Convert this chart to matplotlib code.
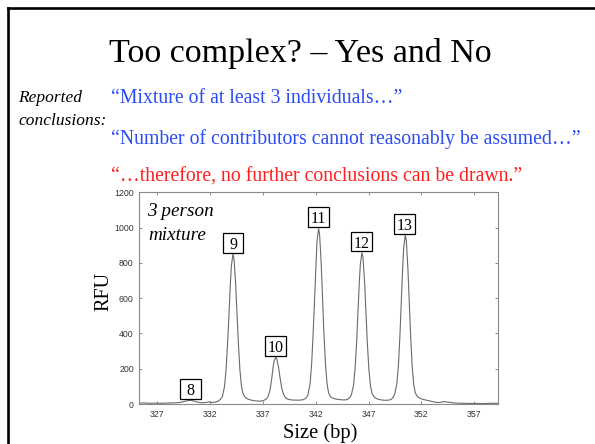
import matplotlib
matplotlib.use("Agg")
import matplotlib.pyplot as plt
from matplotlib.patches import Rectangle
from matplotlib.lines import Line2D

# ---------------- data ----------------
title = "Too complex? \u2013 Yes and No"
side_label = ["Reported", "conclusions:"]
quotes = ["\u201cMixture of at least 3 individuals\u2026\u201d",
          "\u201cNumber of contributors cannot reasonably be assumed\u2026\u201d",
          "\u201c\u2026therefore, no further conclusions can be drawn.\u201d"]
quote_colors = ["#2a4bf5", "#2a4bf5", "#ff1f1f"]

size_bp = [325.35, 325.8, 326.3, 326.8, 327.3, 327.8, 328.3, 328.8, 329.2, 329.6,
           329.9, 330.15, 330.45, 330.75, 331.05, 331.4, 331.7, 331.95, 332.2, 332.5,
           332.8, 333.0, 333.2, 333.4, 333.55, 333.7, 333.8, 333.95, 334.05, 334.2,
           334.3, 334.45, 334.6, 334.7, 334.85, 335.0, 335.15, 335.35, 335.6, 335.9,
           336.3, 336.7, 337.0, 337.3, 337.5, 337.7, 337.85, 337.99, 338.09, 338.24,
           338.34, 338.49, 338.64, 338.79, 338.94, 339.1, 339.35, 339.7, 340.1, 340.5,
           340.8, 341.08, 341.28, 341.48, 341.63, 341.78, 341.88, 342.03, 342.13, 342.28,
           342.38, 342.53, 342.68, 342.78, 342.93, 343.08, 343.23, 343.43, 343.7, 344.0,
           344.4, 344.8, 345.0, 345.18, 345.38, 345.58, 345.73, 345.88, 345.98, 346.13,
           346.23, 346.38, 346.48, 346.63, 346.78, 346.88, 347.03, 347.18, 347.33, 347.55,
           347.85, 348.2, 348.6, 348.9, 349.1, 349.27, 349.47, 349.67, 349.82, 349.97,
           350.07, 350.22, 350.32, 350.47, 350.57, 350.72, 350.87, 350.97, 351.12, 351.27,
           351.42, 351.65, 351.95, 352.3, 352.8, 353.3, 353.7, 354.05, 354.35, 354.8,
           355.3, 355.8, 356.5, 357.2, 357.8, 358.5, 359.2]
rfu = [5, 6, 4, 5, 4, 5, 6, 7, 9, 14,
       19, 21, 18, 12, 8, 7, 9, 12, 9, 10,
       16, 26, 42, 100, 200, 360, 480, 680, 785, 850,
       820, 680, 480, 355, 195, 100, 58, 38, 28, 22,
       18, 16, 18, 26, 40, 80, 140, 210, 245, 265,
       255, 212, 150, 95, 60, 40, 28, 23, 22, 22,
       24, 32, 52, 115, 230, 415, 562, 796, 918, 995,
       960, 796, 562, 410, 228, 115, 62, 40, 31, 27,
       24, 23, 26, 33, 52, 105, 200, 355, 485, 690,
       795, 858, 828, 690, 485, 355, 200, 105, 60, 38,
       28, 23, 21, 22, 25, 34, 55, 115, 215, 395,
       540, 766, 884, 958, 925, 766, 540, 395, 215, 110,
       62, 40, 30, 24, 17, 10, 8, 13, 12, 8,
       5, 4, 3, 3, 2, 4, 4]

allele_labels = ["8", "9", "10", "11", "12", "13"]
allele_size = [330.2, 334.2, 338.24, 342.28, 346.35, 350.42]
allele_height = [21, 850, 265, 995, 858, 958]

x_ticks = [327, 332, 337, 342, 347, 352, 357]
y_ticks = [0, 200, 400, 600, 800, 1000, 1200]

# ---------------- figure ----------------
W, H = 595, 444
fig = plt.figure(figsize=(W / 100, H / 100), dpi=100)
SERIF = ["Liberation Serif", "DejaVu Serif"]

def fx(px):
    return px / W

def fy(py):
    return 1 - py / H

# slide border (top and left edges visible)
fig.add_artist(Line2D([fx(8), 1.01], [fy(8), fy(8)], color="black", lw=1.9,
                      transform=fig.transFigure))
fig.add_artist(Line2D([fx(8), fx(8)], [fy(8), -0.01], color="black", lw=1.9,
                      transform=fig.transFigure))

fig.text(fx(300), fy(62), title, ha="center", va="baseline",
         fontsize=24.5, family=SERIF, color="black")

fig.text(fx(18), fy(102.5), side_label[0], ha="left", va="baseline",
         fontsize=12.5, style="italic", family=SERIF)
fig.text(fx(18), fy(125), side_label[1], ha="left", va="baseline",
         fontsize=12.5, style="italic", family=SERIF)

for q, c, yb in zip(quotes, quote_colors, [103, 144, 182]):
    fig.text(fx(111), fy(yb), q, ha="left", va="baseline",
             fontsize=14.2, family=SERIF, color=c)

# ---------------- chart ----------------
ax = fig.add_axes([fx(139.3), fy(404), fx(497.7) - fx(139.3), fy(192.3) - fy(404)])
ax.plot(size_bp, rfu, color="#6a6a6a", lw=0.8)
ax.set_xlim(325.35, 359.2)
ax.set_ylim(0, 1200)
ax.set_xticks(x_ticks)
ax.set_yticks(y_ticks)
ax.tick_params(direction="in", length=2.5, width=0.6, color="#777777",
               top=True, right=True, labelsize=6.3, labelcolor="#333333", pad=4)
for lab in ax.get_xticklabels() + ax.get_yticklabels():
    lab.set_family(["Liberation Sans", "DejaVu Sans"])
for s in ax.spines.values():
    s.set_color("#8a8a8a")
    s.set_linewidth(0.8)

fig.text(fx(104), fy(291), "RFU", rotation=90, ha="center", va="center",
         fontsize=14.5, family=SERIF)
fig.text(fx(320.5), fy(437.5), "Size (bp)", ha="center", va="baseline",
         fontsize=14.8, family=SERIF)

# allele boxes
bw, bh, off = 1.98, 113, 63
for lab, xs, hs in zip(allele_labels, allele_size, allele_height):
    cy = hs + off
    ax.add_patch(Rectangle((xs - bw / 2, cy - bh / 2), bw, bh, facecolor="white",
                           edgecolor="black", lw=0.9, zorder=3))
    ax.text(xs, cy, lab, ha="center", va="center_baseline", fontsize=11.5,
            family=SERIF, zorder=4)

fig.text(fx(147), fy(216), "3 person", ha="left", va="baseline",
         fontsize=13.8, style="italic", family=SERIF)
fig.text(fx(148), fy(240), "mixture", ha="left", va="baseline",
         fontsize=13.8, style="italic", family=SERIF)

fig.savefig("out.png", dpi=100)
